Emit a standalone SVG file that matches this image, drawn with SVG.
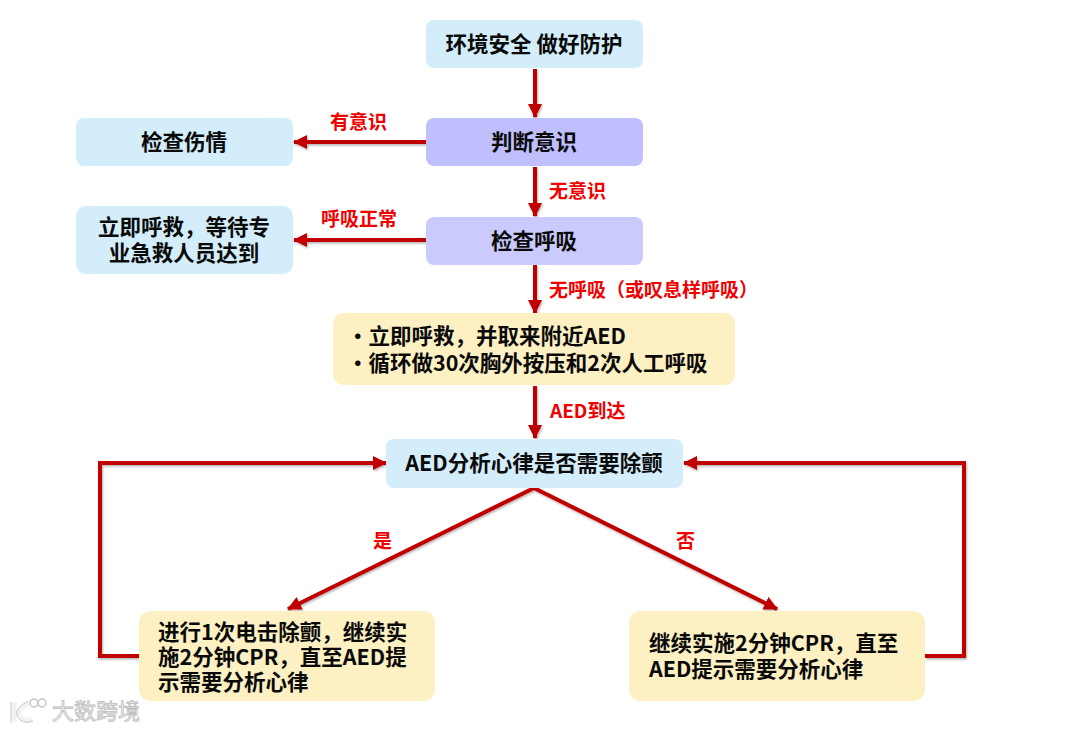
<svg xmlns="http://www.w3.org/2000/svg" width="1069" height="730" viewBox="0 0 1069 730">
<style>
text{font-family:"Noto Sans CJK SC","Noto Sans",sans-serif;font-weight:700}
.t{font-size:21.5px;fill:#0a0a0a;text-anchor:middle}
.l{font-size:21.5px;fill:#0a0a0a}
.r{font-size:19px;fill:#f00000}
.blue{fill:#d3edfa}.pur1{fill:#bfbffd}.pur2{fill:#cacafd}.yel{fill:#fdf0c3}
.c{fill:none;stroke:#c00000;stroke-width:4;stroke-linejoin:miter}
.wm{font-size:22px;fill:#f4f4f4;stroke:#bdbdbd;stroke-width:.8;font-weight:400}
</style>
<defs>
<filter id="s" x="-5%" y="-5%" width="110%" height="110%"><feDropShadow dx="1" dy="1.5" stdDeviation="1" flood-color="#000" flood-opacity=".3"/></filter>
<marker id="a" markerUnits="userSpaceOnUse" markerWidth="14" markerHeight="14" viewBox="0 0 14 14" refX="13" refY="7" orient="auto"><path d="M0 0L14 7L0 14Z" fill="#c00000"/></marker>
</defs>
<rect width="1069" height="730" fill="#fff"/>
<g id="connectors" filter="url(#s)">
<path class="c" marker-end="url(#a)" d="M535 69V117"/>
<path class="c" marker-end="url(#a)" d="M426 142H294"/>
<path class="c" marker-end="url(#a)" d="M535 167V216"/>
<path class="c" marker-end="url(#a)" d="M426 240H294"/>
<path class="c" marker-end="url(#a)" d="M535 265V313"/>
<path class="c" marker-end="url(#a)" d="M535 386V438"/>
<path class="c" marker-end="url(#a)" d="M139 656H100V463H386"/>
<path class="c" marker-end="url(#a)" d="M925 656H964V463H684"/>
<path class="c" marker-end="url(#a)" d="M534 488L288 609"/>
<path class="c" marker-end="url(#a)" d="M534 488L777 609"/>
</g>
<g id="n1"><rect class="blue" x="426" y="20" width="217" height="48" rx="8"/><text class="t" x="534" y="52">环境安全 做好防护</text></g>
<g id="n2"><rect class="pur1" x="426" y="118" width="217" height="48" rx="8"/><text class="t" x="534" y="150">判断意识</text></g>
<g id="n3"><rect class="blue" x="76" y="118" width="217" height="48" rx="8"/><text class="t" x="184" y="150">检查伤情</text></g>
<g id="n4"><rect class="pur2" x="426" y="217" width="217" height="48" rx="8"/><text class="t" x="534" y="249">检查呼吸</text></g>
<g id="n5"><rect class="blue" x="76" y="206" width="217" height="68" rx="10"/><text class="t"><tspan x="184" y="235">立即呼救，等待专</tspan><tspan x="184" y="261">业急救人员达到</tspan></text></g>
<g id="n6"><rect class="yel" x="333" y="313" width="402" height="72" rx="10"/><text class="l"><tspan x="347" y="344">•立即呼救，并取来附近AED</tspan><tspan x="347" y="371">•循环做30次胸外按压和2次人工呼吸</tspan></text></g>
<g id="n7"><rect class="blue" x="386" y="439" width="297" height="49" rx="8"/><text class="t" x="534" y="471">AED分析心律是否需要除颤</text></g>
<g id="n8"><rect class="yel" x="139" y="611" width="296" height="90" rx="12"/><text class="l"><tspan x="158" y="640">进行1次电击除颤，继续实</tspan><tspan x="158" y="665">施2分钟CPR，直至AED提</tspan><tspan x="158" y="690">示需要分析心律</tspan></text></g>
<g id="n9"><rect class="yel" x="629" y="611" width="296" height="90" rx="12"/><text class="l"><tspan x="649" y="651">继续实施2分钟CPR，直至</tspan><tspan x="649" y="677">AED提示需要分析心律</tspan></text></g>
<g id="labels">
<text class="r" x="330" y="129">有意识</text>
<text class="r" x="549" y="198">无意识</text>
<text class="r" x="321" y="226">呼吸正常</text>
<text class="r" x="549" y="297">无呼吸（或叹息样呼吸）</text>
<text class="r" x="550" y="418">AED到达</text>
<text class="r" x="373" y="548">是</text>
<text class="r" x="676" y="548">否</text>
</g>
<g id="watermark">
<text class="wm" x="52" y="719">大数跨境</text>
<path d="M14 702V722M29 703Q17 709 19 715Q23 723 32 719" fill="none" stroke="#f2f2f2" stroke-width="5"/>
<path d="M11 702V723M28 701Q14 709 17 716Q22 725 33 721" fill="none" stroke="#c9c9c9" stroke-width="1"/>
<circle cx="34" cy="703" r="4" fill="none" stroke="#c4c4c4" stroke-width="1.5"/><circle cx="42" cy="703" r="4" fill="none" stroke="#c4c4c4" stroke-width="1.5"/>
</g>
</svg>
